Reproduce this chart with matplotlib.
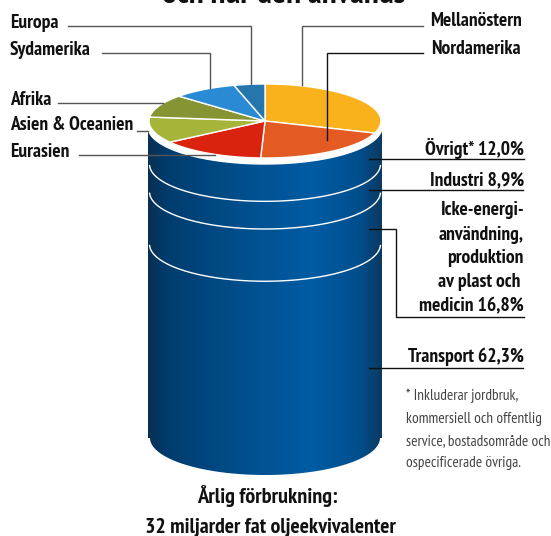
import matplotlib.pyplot as plt
import numpy as np
from matplotlib.colors import LinearSegmentedColormap
from matplotlib.patches import Polygon

REGIONS = ['Mellanöstern', 'Nordamerika', 'Eurasien', 'Asien & Oceanien', 'Afrika', 'Sydamerika', 'Europa']
REGION_SHARE = [30.3, 20.3, 14.7, 11.4, 10.0, 9.0, 4.3]
REGION_COL = ['#f9b11c', '#e35a22', '#d9230f', '#a5b53a', '#879433', '#2a8bd4', '#2676ae']

USE_NAMES = ['Övrigt*', 'Industri', 'Icke-energianvändning', 'Transport']
USE_SHARE = [12.0, 8.9, 16.8, 62.3]

plt.rcParams['font.family'] = ['PT Sans Narrow', 'Liberation Sans', 'DejaVu Sans']

# cylinder geometry in pixels
CX, CY, RX, RY = 265, 121, 116, 37
TOP, BOTTOM = 127, 438

fig = plt.figure(figsize=(5.51, 5.36), dpi=100)
ax = fig.add_axes([0, 0, 1, 1])
ax.axis('off')


def ell(a, cy=CY, rx=RX, ry=RY, cx=CX):
    a = np.radians(a)
    return np.column_stack([cx + rx * np.cos(a), cy - ry * np.sin(a)])


# body
cmap = LinearSegmentedColormap.from_list('body', [
    (0, '#0a2f52'), (0.08, '#003c6e'), (0.4, '#004f8c'), (0.7, '#005ca4'),
    (0.9, '#004f8e'), (1, '#0c3a62')])
grad = np.linspace(0, 1, 256).reshape(1, -1)
im = ax.imshow(grad, cmap=cmap, extent=[148, 382, 536, 0], aspect='auto', zorder=1)
bottom_arc = ell(np.linspace(0, -180, 80), cy=BOTTOM, rx=115)
outline = np.vstack([[[382, 120]], [[382, BOTTOM]], bottom_arc, [[148, BOTTOM]], [[148, 120]]])
clip = Polygon(outline, closed=True, transform=ax.transData, fill=False, edgecolor='none')
ax.add_patch(clip)
im.set_clip_path(clip)
ax.set_xlim(0, 551)
ax.set_ylim(536, 0)

# section rings
h = BOTTOM - TOP
pos = 0
for share in USE_SHARE[:-1]:
    pos += share
    y = TOP + h * pos / 100
    pts = ell(np.linspace(-2, -178, 80), cy=y, rx=115.5)
    ax.plot(pts[:, 0], pts[:, 1], color='white', lw=1, zorder=2)

# white rim and top slices
ax.add_patch(Polygon(ell(np.linspace(0, 360, 160), cy=CY + 6, rx=117), color='white', zorder=3))
ax.add_patch(Polygon(ell(np.linspace(0, 360, 160), rx=117, ry=38), color='white', zorder=3))
a0 = 90
for share, col in zip(REGION_SHARE, REGION_COL):
    a1 = a0 - share * 3.6
    pts = np.vstack([[[CX, CY]], ell(np.linspace(a0, a1, 60))])
    ax.add_patch(Polygon(pts, closed=True, facecolor=col, edgecolor='white', lw=1, zorder=4))
    a0 = a1

# leader lines
GR = '#555555'
BK = '#111111'
leaders = [
    ([68, 251, 251], [26, 26, 84], GR),
    ([102, 210, 210], [53, 53, 88], GR),
    ([58, 163], [103, 103], GR),
    ([137, 148], [130.5, 130.5], GR),
    ([79, 215], [155, 155], GR),
    ([423, 302, 302], [26, 26, 85], GR),
    ([423, 327, 327], [53, 53, 140], BK),
    ([369, 524], [159, 159], BK),
    ([369, 523], [190, 190], BK),
    ([369, 396, 396, 524], [229, 229, 317, 317], BK),
    ([369, 523], [368, 368], BK),
]
for xs, ys, c in leaders:
    ax.plot(xs, ys, color=c, lw=1, zorder=5, solid_joinstyle='miter')


def bold(x, y, s, ha='left', size=14):
    ax.text(x, y, s, ha=ha, va='baseline', fontsize=size, fontweight='bold', color='#111111', zorder=6)


bold(10, 28, REGIONS[6])
bold(10, 55, REGIONS[5])
bold(10, 105, REGIONS[4])
bold(10, 130, REGIONS[3])
bold(10, 157, REGIONS[2])
bold(430, 26, REGIONS[0])
bold(431, 54, REGIONS[1])

bold(524, 155, f'{USE_NAMES[0]} {USE_SHARE[0]:.1f}%'.replace('.', ','), ha='right')
bold(524, 185, f'{USE_NAMES[1]} {USE_SHARE[1]:.1f}%'.replace('.', ','), ha='right')
bold(524, 215, 'Icke-energi-', ha='right')
bold(524, 240, 'användning,', ha='right')
bold(524, 263, 'produktion', ha='right')
bold(520, 287, 'av plast och', ha='right')
bold(524, 311, f'medicin {USE_SHARE[2]:.1f}%'.replace('.', ','), ha='right')
bold(524, 362, f'{USE_NAMES[3]} {USE_SHARE[3]:.1f}%'.replace('.', ','), ha='right')

note = ['* Inkluderar jordbruk,', 'kommersiell och offentlig', 'service, bostadsområde och', 'ospecificerade övriga.']
for y, s in zip([400, 423, 445, 467], note):
    ax.text(406, y, s, fontsize=11, color='#444444', va='baseline', zorder=6)

bold(267, 503, 'Årlig förbrukning:', ha='center', size=16)
bold(270, 533, '32 miljarder fat oljeekvivalenter', ha='center', size=15.7)
bold(284, 3, 'och hur den används', ha='center', size=24)

fig.savefig('out.png', dpi=100)
